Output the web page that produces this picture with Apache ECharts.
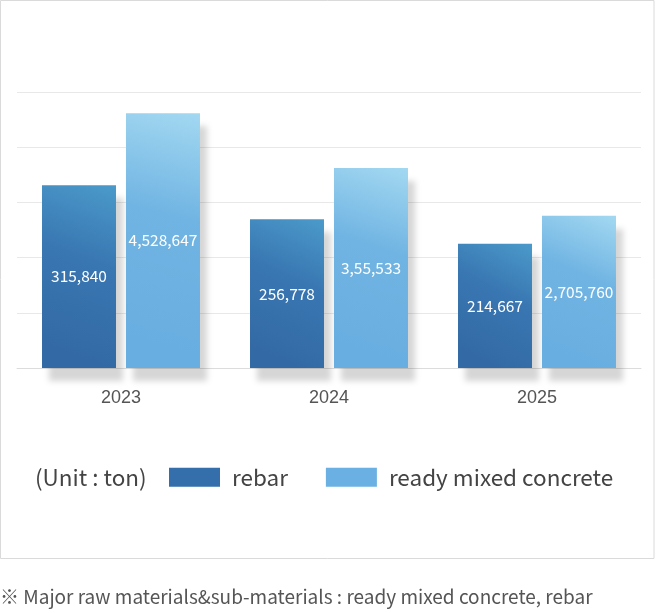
<!DOCTYPE html>
<html>
<head>
<meta charset="utf-8">
<script src="https://cdn.jsdelivr.net/npm/echarts@6/dist/echarts.min.js"></script>
<style>
html,body{margin:0;padding:0;background:#fff;}
#chart{width:663px;height:613px;}
</style>
</head>
<body>
<div id="chart"></div>
<script>
const categories = ['2023', '2024', '2025'];
const seriesNames = ['rebar', 'ready mixed concrete'];
const rebarValues = [315840, 256778, 214667];
const concreteValues = [4528647, 3555533, 2705760];
const rebarLabels = ['315,840', '256,778', '214,667'];
const concreteLabels = ['4,528,647', '3,55,533', '2,705,760'];
const unitText = '(Unit : ton)';
const footnote = '※ Major raw materials&sub-materials : ready mixed concrete, rebar';

const FONT = '"Noto Sans CJK KR", "Noto Sans", sans-serif';
const chart = echarts.init(document.getElementById('chart'), null, {renderer: 'canvas'});

const rebarMax = 476766;
const concreteMax = 4905530;

function grad(c0, c1, c2) {
  return new echarts.graphic.LinearGradient(1, 0, 0.2, 0.9, [
    {offset: 0, color: c0}, {offset: 0.45, color: c1}, {offset: 1, color: c2}
  ]);
}

const shadow = {shadowColor: 'rgba(0,0,0,0.16)', shadowBlur: 6, shadowOffsetX: 7, shadowOffsetY: 13};

chart.setOption({
  animation: false,
  textStyle: {fontFamily: FONT},
  grid: {left: 17, right: 22, top: 92, bottom: 245},
  legend: {
    left: 169, top: 466, padding: 0,
    itemWidth: 51, itemHeight: 19, itemGap: 38,
    icon: 'rect',
    data: [
      {name: seriesNames[0], itemStyle: {color: '#356fab', shadowBlur: 0, shadowOffsetX: 0, shadowOffsetY: 0}},
      {name: seriesNames[1], itemStyle: {color: '#6bb0e2', shadowBlur: 0, shadowOffsetX: 0, shadowOffsetY: 0}}
    ],
    textStyle: {fontSize: 22.5, color: '#444', fontFamily: FONT, padding: [0, 0, 0, 7]}
  },
  xAxis: {
    type: 'category', data: categories,
    axisLine: {lineStyle: {color: '#dcdcdc'}},
    axisTick: {show: false},
    axisLabel: {fontSize: 18, color: '#555', margin: 21, fontFamily: '"Liberation Sans", Arial, sans-serif'}
  },
  yAxis: [
    {type: 'value', min: 0, max: rebarMax, interval: rebarMax / 5,
     axisLine: {show: false}, axisTick: {show: false}, axisLabel: {show: false},
     splitLine: {lineStyle: {color: '#e8e8e8'}}},
    {type: 'value', min: 0, max: concreteMax, interval: concreteMax / 5,
     axisLine: {show: false}, axisTick: {show: false}, axisLabel: {show: false},
     splitLine: {show: false}}
  ],
  series: [
    {
      name: seriesNames[0], type: 'bar', yAxisIndex: 0,
      barWidth: 74, barGap: '13.5%',
      data: rebarValues,
      itemStyle: Object.assign({color: grad('#4b9acb', '#3977b2', '#336aa5')}, shadow),
      label: {show: true, position: 'inside', color: '#fff', fontSize: 15.5, fontFamily: FONT,
        formatter: p => rebarLabels[p.dataIndex]}
    },
    {
      name: seriesNames[1], type: 'bar', yAxisIndex: 1,
      barWidth: 74,
      data: concreteValues,
      itemStyle: Object.assign({color: grad('#a3d8f1', '#70b4e3', '#69aee0')}, shadow),
      label: {show: true, position: 'inside', color: '#fff', fontSize: 15.5, fontFamily: FONT,
        formatter: p => concreteLabels[p.dataIndex]}
    }
  ],
  graphic: [
    {type: 'rect', shape: {x: 0.5, y: 0.5, width: 653.5, height: 558}, style: {fill: 'none', stroke: '#dadada', lineWidth: 1}, z: -1},
    {type: 'text', left: 35, top: 466, style: {text: unitText, fontSize: 22.5, fill: '#444', fontFamily: FONT}},
    {type: 'text', left: 0, top: 587, style: {text: footnote, fontSize: 19, fill: '#555', fontFamily: FONT}}
  ]
});
</script>
</body>
</html>
